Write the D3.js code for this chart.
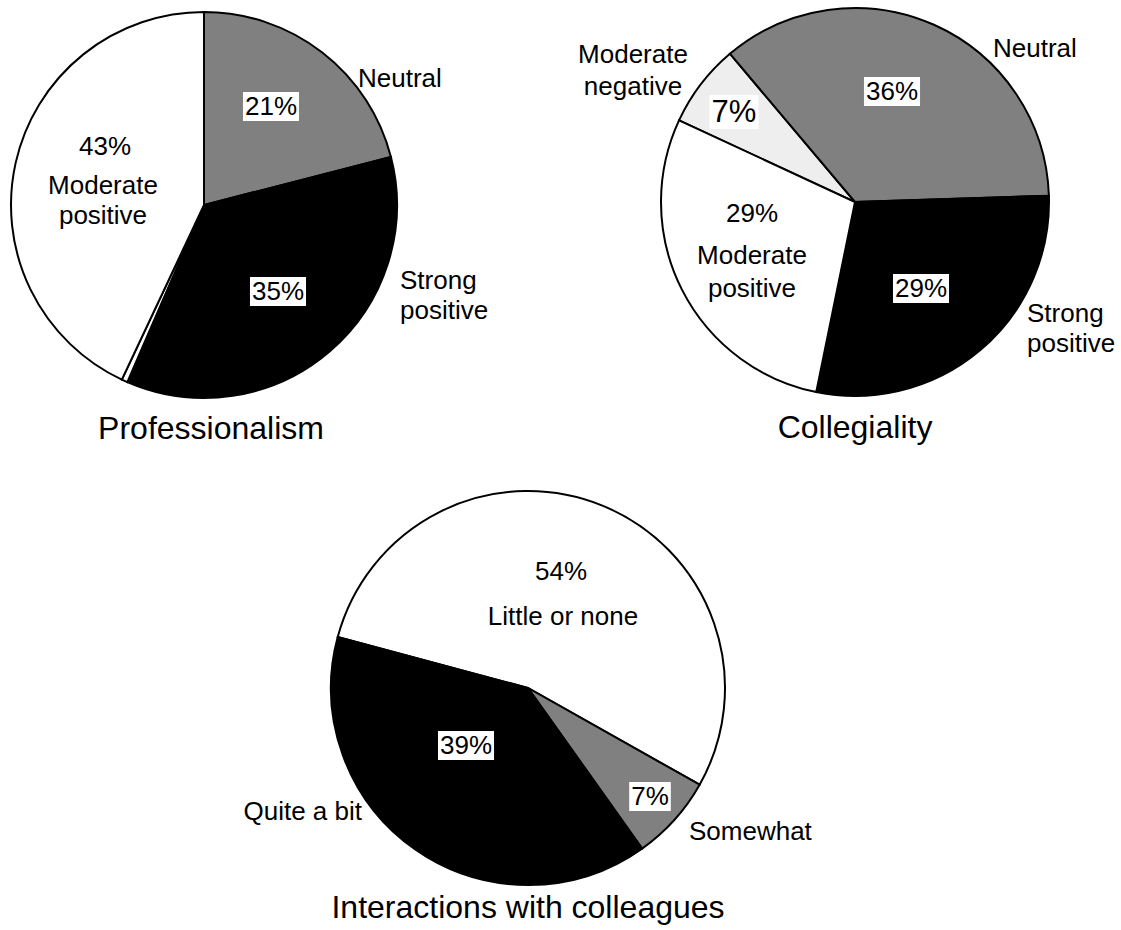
<!DOCTYPE html>
<meta charset="utf-8">
<style>
body { margin: 0; background: #fff; }
svg text { font-family: "Liberation Sans", Arial, sans-serif; fill: #000; }
.slice { stroke: #000; stroke-width: 2; }
.title { font-size: 32px; }
.lbl { font-size: 26px; }
.pct { font-size: 26px; }
</style>
<svg width="1121" height="930"></svg>
<script src="https://cdn.jsdelivr.net/npm/d3@7"></script>
<script>
// values
var proCats = ["Neutral", "Strong positive", "Other", "Moderate positive"];
var proValues = [21, 35.5, 0.5, 43];
var proPct = ["21%", "35%", "", "43%"];

var colCats = ["Moderate negative", "Neutral", "Strong positive", "Moderate positive"];
var colValues = [7, 36, 29, 29];
var colPct = ["7%", "36%", "29%", "29%"];

var intCats = ["Little or none", "Somewhat", "Quite a bit"];
var intValues = [54, 7, 39];
var intPct = ["54%", "7%", "39%"];

var fills = {
  "Neutral": "#808080",
  "Strong positive": "#000000",
  "Other": "#ffffff",
  "Moderate positive": "#ffffff",
  "Moderate negative": "#eeeeee",
  "Little or none": "#ffffff",
  "Somewhat": "#808080",
  "Quite a bit": "#000000"
};

var svg = d3.select("svg");

// layout: centre, radius, first slice angle (deg), label offsets from centre
var pies = [
  {
    title: "Professionalism", cats: proCats, values: proValues, pct: proPct,
    cx: 204, cy: 205, r: 193, start: 0, titleAt: [7, 234],
    pctAt: [[67, -90], [74, 95], null, [-99, -50]],
    box: [true, true, false, false],
    names: [
      {lines: ["Neutral"], at: [154, -118], anchor: "start"},
      {lines: ["Strong", "positive"], at: [196, 84], anchor: "start"},
      null,
      {lines: ["Moderate", "positive"], at: [-101, -11], anchor: "middle", gap: 30}
    ]
  },
  {
    title: "Collegiality", cats: colCats, values: colValues, pct: colPct,
    cx: 855, cy: 202, r: 194, start: -65.1, titleAt: [0, 236],
    pctAt: [[-121, -80], [37, -102], [66, 95], [-103, 20]],
    box: [true, true, true, false], big: 0,
    names: [
      {lines: ["Moderate", "negative"], at: [-222, -139], anchor: "middle", gap: 32},
      {lines: ["Neutral"], at: [138, -145], anchor: "start"},
      {lines: ["Strong", "positive"], at: [172, 120], anchor: "start"},
      {lines: ["Moderate", "positive"], at: [-103, 62], anchor: "middle", gap: 33}
    ]
  },
  {
    title: "Interactions with colleagues", cats: intCats, values: intValues, pct: intPct,
    cx: 528, cy: 688, r: 197, start: 285, titleAt: [0, 230],
    pctAt: [[33, -108], [122, 117], [-62, 66]],
    box: [false, true, true],
    names: [
      {lines: ["Little or none"], at: [35, -63], anchor: "middle"},
      {lines: ["Somewhat"], at: [161, 152], anchor: "start"},
      {lines: ["Quite a bit"], at: [-166, 132], anchor: "end"}
    ]
  }
];

var arc = d3.arc().innerRadius(0);

pies.forEach(function(p) {
  var a0 = p.start * Math.PI / 180;
  var pie = d3.pie().sort(null)
      .startAngle(a0)
      .endAngle(a0 + 2 * Math.PI);

  var g = svg.append("g")
      .attr("transform", "translate(" + p.cx + "," + p.cy + ")");

  arc.outerRadius(p.r);

  g.selectAll("path")
    .data(pie(p.values))
    .enter().append("path")
      .attr("class", "slice")
      .attr("d", arc)
      .style("fill", function(d, i) { return fills[p.cats[i]]; });

  // percent labels, white box behind the ones on dark slices
  p.pct.forEach(function(t, i) {
    if (!t || !p.pctAt[i]) return;
    var lg = g.append("g");
    var txt = lg.append("text")
        .attr("class", "pct")
        .attr("x", p.pctAt[i][0])
        .attr("y", p.pctAt[i][1])
        .attr("text-anchor", "middle")
        .style("font-size", p.big === i ? "31px" : null)
        .text(t);
    if (p.box[i]) {
      var b = txt.node().getBBox();
      lg.insert("rect", "text")
        .attr("x", b.x - 2)
        .attr("y", b.y + 1)
        .attr("width", b.width + 4)
        .attr("height", b.height - 1)
        .style("fill", "#fff");
    }
  });

  // category names
  p.names.forEach(function(n) {
    if (!n) return;
    n.lines.forEach(function(line, k) {
      g.append("text")
        .attr("class", "lbl")
        .attr("x", n.at[0])
        .attr("y", n.at[1] + k * (n.gap || 30))
        .attr("text-anchor", n.anchor)
        .text(line);
    });
  });

  g.append("text")
    .attr("class", "title")
    .attr("x", p.titleAt[0])
    .attr("y", p.titleAt[1])
    .attr("text-anchor", "middle")
    .text(p.title);
});
</script>
